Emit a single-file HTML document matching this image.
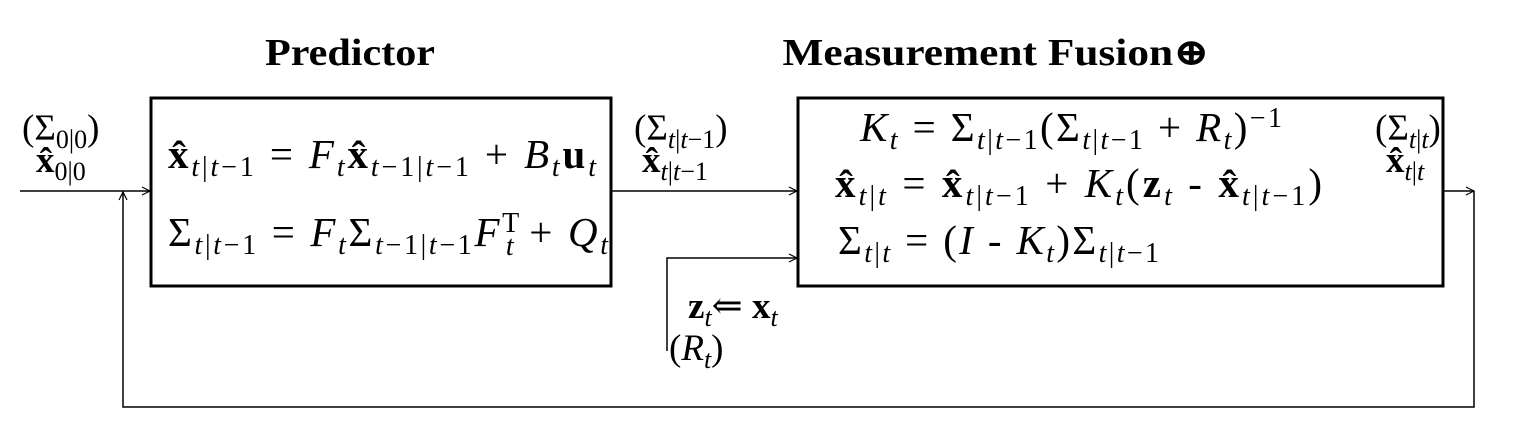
<!DOCTYPE html>
<html><head><meta charset="utf-8"><style>
html,body{margin:0;padding:0;background:#fff;}
svg{display:block;font-family:"Liberation Serif","DejaVu Serif",serif;}
.i{font-style:italic}
.b{font-weight:bold;font-style:normal}
text{font-size:41px}
.s{font-size:28px}
.lab{font-size:37px}
.lab .s{font-size:26px}
</style></head><body>
<svg width="1524" height="424" viewBox="0 0 1524 424">
<defs>
<marker id="ar" markerWidth="10" markerHeight="10" refX="9" refY="5" orient="auto" markerUnits="userSpaceOnUse">
<path d="M1,1 L9,5 L1,9" fill="none" stroke="#000" stroke-width="1.2"/></marker>
</defs>
<g fill="#000">
<text x="350" y="65" text-anchor="middle" font-weight="bold" style="font-size:38px" textLength="170" lengthAdjust="spacingAndGlyphs">Predictor</text>
<text x="996" y="65" text-anchor="middle" font-weight="bold" style="font-size:38px" textLength="427" lengthAdjust="spacingAndGlyphs">Measurement Fusion⊕</text>

<rect x="151" y="98" width="460" height="188" fill="none" stroke="#000" stroke-width="3"/>
<rect x="798" y="98" width="645" height="188" fill="none" stroke="#000" stroke-width="3"/>

<g stroke="#000" stroke-width="1.5" fill="none">
<line x1="20" y1="191" x2="150" y2="191" marker-end="url(#ar)"/>
<line x1="612" y1="191" x2="797" y2="191" marker-end="url(#ar)"/>
<polyline points="1444,191 1474,191" marker-end="url(#ar)"/>
<polyline points="1474,191 1474,407 123,407 123,192" marker-end="url(#ar)"/>
<polyline points="667,351 667,258 797,258" marker-end="url(#ar)"/>
</g>

<text class="lab" x="22" y="140">(Σ<tspan class="s" dy="8">0|0</tspan><tspan dy="-8">)</tspan></text>
<text class="lab" x="36" y="172"><tspan class="b">x̂</tspan><tspan class="s" dy="8">0|0</tspan></text>

<text x="168" y="168" textLength="428" lengthAdjust="spacing"><tspan class="b">x̂</tspan><tspan class="i s" dy="8">t</tspan><tspan class="s">|</tspan><tspan class="i s">t</tspan><tspan class="s">−1</tspan><tspan dy="-8"> = </tspan><tspan class="i">F</tspan><tspan class="i s" dy="8">t</tspan><tspan class="b" dy="-8">x̂</tspan><tspan class="i s" dy="8">t</tspan><tspan class="s">−1|</tspan><tspan class="i s">t</tspan><tspan class="s">−1</tspan><tspan dy="-8"> + </tspan><tspan class="i">B</tspan><tspan class="i s" dy="8">t</tspan><tspan class="b" dy="-8">u</tspan><tspan class="i s" dy="8">t</tspan></text>
<text x="168" y="246" textLength="440" lengthAdjust="spacing">Σ<tspan class="i s" dy="8">t</tspan><tspan class="s">|</tspan><tspan class="i s">t</tspan><tspan class="s">−1</tspan><tspan dy="-8"> = </tspan><tspan class="i">F</tspan><tspan class="i s" dy="8">t</tspan><tspan dy="-8">Σ</tspan><tspan class="i s" dy="8">t</tspan><tspan class="s">−1|</tspan><tspan class="i s">t</tspan><tspan class="s">−1</tspan><tspan class="i" dy="-8">F</tspan><tspan class="s" dy="-14">T</tspan><tspan class="i s" dx="-16" dy="23">t</tspan><tspan dy="-9"> + </tspan><tspan class="i">Q</tspan><tspan class="i s" dy="8">t</tspan></text>

<text class="lab" x="634" y="140">(Σ<tspan class="i s" dy="8">t</tspan><tspan class="s">|</tspan><tspan class="i s">t</tspan><tspan class="s">−1</tspan><tspan dy="-8">)</tspan></text>
<text class="lab" x="642" y="172"><tspan class="b">x̂</tspan><tspan class="i s" dy="8">t</tspan><tspan class="s">|</tspan><tspan class="i s">t</tspan><tspan class="s">−1</tspan></text>

<text x="860" y="141" textLength="422" lengthAdjust="spacing"><tspan class="i">K</tspan><tspan class="i s" dy="8">t</tspan><tspan dy="-8"> = Σ</tspan><tspan class="i s" dy="8">t</tspan><tspan class="s">|</tspan><tspan class="i s">t</tspan><tspan class="s">−1</tspan><tspan dy="-8">(Σ</tspan><tspan class="i s" dy="8">t</tspan><tspan class="s">|</tspan><tspan class="i s">t</tspan><tspan class="s">−1</tspan><tspan dy="-8"> + </tspan><tspan class="i">R</tspan><tspan class="i s" dy="8">t</tspan><tspan dy="-8">)</tspan><tspan class="s" dy="-14">−1</tspan></text>
<text x="835" y="197" textLength="487" lengthAdjust="spacing"><tspan class="b">x̂</tspan><tspan class="i s" dy="8">t</tspan><tspan class="s">|</tspan><tspan class="i s">t</tspan><tspan dy="-8"> = </tspan><tspan class="b">x̂</tspan><tspan class="i s" dy="8">t</tspan><tspan class="s">|</tspan><tspan class="i s">t</tspan><tspan class="s">−1</tspan><tspan dy="-8"> + </tspan><tspan class="i">K</tspan><tspan class="i s" dy="8">t</tspan><tspan dy="-8">(</tspan><tspan class="b">z</tspan><tspan class="i s" dy="8">t</tspan><tspan dy="-8"> - </tspan><tspan class="b">x̂</tspan><tspan class="i s" dy="8">t</tspan><tspan class="s">|</tspan><tspan class="i s">t</tspan><tspan class="s">−1</tspan><tspan dy="-8">)</tspan></text>
<text x="838" y="254" textLength="321" lengthAdjust="spacing">Σ<tspan class="i s" dy="8">t</tspan><tspan class="s">|</tspan><tspan class="i s">t</tspan><tspan dy="-8"> = (</tspan><tspan class="i">I</tspan><tspan> - </tspan><tspan class="i">K</tspan><tspan class="i s" dy="8">t</tspan><tspan dy="-8">)Σ</tspan><tspan class="i s" dy="8">t</tspan><tspan class="s">|</tspan><tspan class="i s">t</tspan><tspan class="s">−1</tspan></text>

<text class="lab" x="1375" y="140">(Σ<tspan class="i s" dy="8">t</tspan><tspan class="s">|</tspan><tspan class="i s">t</tspan><tspan dy="-8">)</tspan></text>
<text class="lab" x="1386" y="172"><tspan class="b">x̂</tspan><tspan class="i s" dy="8">t</tspan><tspan class="s">|</tspan><tspan class="i s">t</tspan></text>

<text class="lab" x="688" y="318"><tspan class="b">z</tspan><tspan class="i s" dy="8">t</tspan><tspan dy="-8">⇐ </tspan><tspan class="b">x</tspan><tspan class="i s" dy="8">t</tspan></text>
<text class="lab" x="669" y="360">(<tspan class="i">R</tspan><tspan class="i s" dy="8">t</tspan><tspan dy="-8">)</tspan></text>
</g>
</svg>
</body></html>
